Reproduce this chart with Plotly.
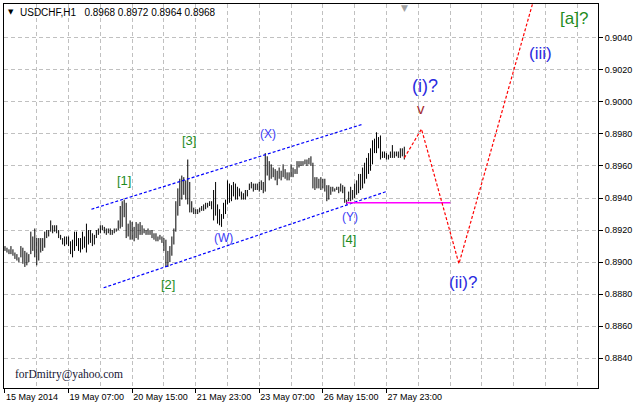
import plotly.graph_objects as go

# ---- data ----
highs = [
    0.8910, 0.8909, 0.8908, 0.8910, 0.8908, 0.8906, 0.8905, 0.8903, 0.8910, 0.8909,
    0.8907, 0.8906, 0.8905, 0.8919, 0.8916, 0.8921, 0.8915, 0.8915, 0.8915, 0.8915,
    0.8919, 0.8920, 0.8920, 0.8926, 0.8923, 0.8923, 0.8923, 0.8920, 0.8917, 0.8915,
    0.8916, 0.8916, 0.8916, 0.8913, 0.8914, 0.8919, 0.8919, 0.8915, 0.8915, 0.8919,
    0.8916, 0.8924, 0.8920, 0.8920, 0.8918, 0.8917, 0.8920, 0.8921, 0.8923, 0.8923,
    0.8922,
    0.8921, 0.8921, 0.8921, 0.8920, 0.8921, 0.8921, 0.8926, 0.8935, 0.8938, 0.8939,
    0.8937, 0.8924, 0.8926, 0.8925, 0.8922, 0.8925, 0.8924, 0.8925, 0.8923, 0.8921,
    0.8920, 0.8921, 0.8920, 0.8920, 0.8918, 0.8918, 0.8916, 0.8917, 0.8916, 0.8915,
    0.8914, 0.8907, 0.8910, 0.8916, 0.8921, 0.8938, 0.8946, 0.8952, 0.8954, 0.8953,
    0.8951, 0.8964, 0.8950, 0.8938, 0.8934, 0.8933, 0.8933, 0.8934, 0.8935, 0.8936,
    0.8937, 0.8937, 0.8938, 0.8938, 0.8945, 0.8950, 0.8936, 0.8933, 0.8930, 0.8937,
    0.8939, 0.8951, 0.8949, 0.8948, 0.8950, 0.8949, 0.8947, 0.8946, 0.8944, 0.8943,
    0.8945, 0.8945, 0.8949, 0.8950, 0.8949, 0.8949, 0.8949, 0.8950, 0.8951, 0.8950,
    0.8968, 0.8966, 0.8963, 0.8961, 0.8959, 0.8958, 0.8957, 0.8959, 0.8957, 0.8961,
    0.8958, 0.8956, 0.8956, 0.8961, 0.8959, 0.8958, 0.8963, 0.8963, 0.8963, 0.8963,
    0.8964, 0.8964, 0.8965, 0.8966, 0.8962, 0.8953, 0.8953, 0.8952, 0.8953, 0.8952,
    0.8952, 0.8948, 0.8948, 0.8947, 0.8947, 0.8946, 0.8947, 0.8947, 0.8949, 0.8948,
    0.8947, 0.8939, 0.8944, 0.8947, 0.8945, 0.8949, 0.8951, 0.8955, 0.8955, 0.8959,
    0.8962, 0.8965, 0.8968, 0.8971, 0.8976, 0.8977, 0.8981, 0.8978, 0.8979, 0.8969,
    0.8969, 0.8968, 0.8967, 0.8969, 0.8973, 0.8969, 0.8969, 0.8969, 0.8971, 0.8971,
    0.8972,
]
lows = [
    0.8907, 0.8906, 0.8905, 0.8905, 0.8904, 0.8902, 0.8901, 0.8900, 0.8903, 0.8899,
    0.8897, 0.8898, 0.8900, 0.8905, 0.8907, 0.8903, 0.8898, 0.8901, 0.8906, 0.8907,
    0.8909, 0.8915, 0.8916, 0.8919, 0.8918, 0.8919, 0.8918, 0.8915, 0.8914, 0.8911,
    0.8910, 0.8911, 0.8910, 0.8905, 0.8903, 0.8907, 0.8910, 0.8907, 0.8906, 0.8908,
    0.8909, 0.8906, 0.8911, 0.8912, 0.8910, 0.8911, 0.8915, 0.8917, 0.8918, 0.8920,
    0.8918,
    0.8917, 0.8918, 0.8917, 0.8917, 0.8918, 0.8919, 0.8920, 0.8921, 0.8922, 0.8928,
    0.8915, 0.8916, 0.8914, 0.8914, 0.8913, 0.8915, 0.8914, 0.8917, 0.8917, 0.8918,
    0.8917, 0.8917, 0.8917, 0.8915, 0.8914, 0.8913, 0.8913, 0.8914, 0.8912, 0.8907,
    0.8897, 0.8897, 0.8900, 0.8904, 0.8911, 0.8919, 0.8929, 0.8935, 0.8939, 0.8942,
    0.8939, 0.8936, 0.8931, 0.8931, 0.8930, 0.8930, 0.8930, 0.8931, 0.8932, 0.8932,
    0.8933, 0.8934, 0.8935, 0.8933, 0.8926, 0.8929, 0.8924, 0.8923, 0.8922, 0.8927,
    0.8930, 0.8936, 0.8937, 0.8938, 0.8941, 0.8939, 0.8939, 0.8941, 0.8939, 0.8939,
    0.8939, 0.8941, 0.8945, 0.8946, 0.8944, 0.8945, 0.8945, 0.8944, 0.8945, 0.8943,
    0.8944, 0.8954, 0.8951, 0.8952, 0.8953, 0.8951, 0.8948, 0.8952, 0.8951, 0.8953,
    0.8952, 0.8951, 0.8951, 0.8953, 0.8953, 0.8955, 0.8955, 0.8959, 0.8960, 0.8960,
    0.8961, 0.8960, 0.8961, 0.8960, 0.8946, 0.8945, 0.8946, 0.8946, 0.8945, 0.8946,
    0.8944, 0.8938, 0.8939, 0.8942, 0.8944, 0.8944, 0.8945, 0.8943, 0.8944, 0.8943,
    0.8937, 0.8936, 0.8938, 0.8938, 0.8939, 0.8940, 0.8942, 0.8943, 0.8945, 0.8946,
    0.8949, 0.8952, 0.8955, 0.8957, 0.8961, 0.8968, 0.8968, 0.8971, 0.8964, 0.8965,
    0.8965, 0.8964, 0.8964, 0.8965, 0.8965, 0.8965, 0.8966, 0.8965, 0.8965, 0.8966,
    0.8964,
]
last_ohlc = ["0.8968", "0.8972", "0.8964", "0.8968"]

time_tick_pos = [0, 32, 64, 96, 128, 160, 192]
time_tick_text = ["15 May 2014", "19 May 07:00", "20 May 15:00", "21 May 23:00",
                  "23 May 07:00", "26 May 15:00", "27 May 23:00"]
price_ticks = [0.8840, 0.8860, 0.8880, 0.8900, 0.8920, 0.8940,
               0.8960, 0.8980, 0.9000, 0.9020, 0.9040]

# channel lines (bar index, price)
upper_channel_x = [43.5, 180.0]
upper_channel_y = [0.8933, 0.8986]
lower_channel_x = [49.65, 191.85]
lower_channel_y = [0.8884, 0.8944]
support_x = [171.85, 224.15]
support_y = [0.8937, 0.8937]
projection_x = [201, 209.65, 228.5, 265.75]
projection_y = [0.8965, 0.8983, 0.8899, 0.9062]

# wave labels: text, bar index, price, colour, size
wave_labels = [
    ("[1]", 60.0, 0.8951, "#1e8c1e", 13),
    ("[2]", 82.25, 0.8886, "#1e8c1e", 13),
    ("[3]", 92.5, 0.8976, "#1e8c1e", 13),
    ("[4]", 173.25, 0.8914, "#1e8c1e", 13),
    ("(W)", 109.75, 0.8915, "#3a3af5", 12),
    ("(X)", 132.5, 0.8980, "#3a3af5", 12),
    ("(Y)", 173.75, 0.8928, "#3a3af5", 12),
    ("(i)?", 211.5, 0.9010, "#2a2ae0", 18),
    ("v", 209.5, 0.8996, "#a52a2a", 15),
    ("(ii)?", 230.75, 0.8887, "#2a2ae0", 17),
    ("(iii)", 269.5, 0.9030, "#2a2ae0", 17),
    ("[a]?", 286.5, 0.9052, "#1e8c1e", 17),
]

X_RANGE = [-0.5, 298.5]
Y_RANGE = [0.88215, 0.90610]
FONT = "Liberation Sans, Arial, sans-serif"

# ---- figure ----
bx, by = [], []
for i, (h, l) in enumerate(zip(highs, lows)):
    bx += [i, i, None]
    by += [l, h, None]

fig = go.Figure()
fig.add_trace(go.Scatter(x=bx, y=by, mode="lines",
                         line=dict(color="black", width=1), hoverinfo="skip"))
fig.add_trace(go.Scatter(x=upper_channel_x, y=upper_channel_y, mode="lines",
                         line=dict(color="#0000ff", width=1.2, dash="3px,2px")))
fig.add_trace(go.Scatter(x=lower_channel_x, y=lower_channel_y, mode="lines",
                         line=dict(color="#0000ff", width=1.2, dash="3px,2px")))
fig.add_trace(go.Scatter(x=support_x, y=support_y, mode="lines",
                         line=dict(color="#ff00ff", width=1.6)))
fig.add_trace(go.Scatter(x=projection_x, y=projection_y, mode="lines",
                         line=dict(color="#ff0000", width=1.2, dash="3px,2px")))

ann = []
for txt, k, p, col, sz in wave_labels:
    ann.append(dict(x=k, y=p, xref="x", yref="y", text=txt, showarrow=False,
                    font=dict(family=FONT, size=sz, color=col),
                    xanchor="center", yanchor="middle"))

ann.append(dict(x=0.0117, y=0.979, xref="paper", yref="paper", text="▼",
                showarrow=False, font=dict(family="DejaVu Sans", size=7, color="black"),
                xanchor="center", yanchor="middle"))
ann.append(dict(x=0.0234, y=0.979, xref="paper", yref="paper",
                text="USDCHF,H1\u00a0\u00a0\u00a0" + "\u00a0".join(last_ohlc),
                showarrow=False, font=dict(family=FONT, size=10, color="black"),
                xanchor="left", yanchor="middle"))
ann.append(dict(x=0.015, y=0.034, xref="paper", yref="paper",
                text="forDmitry@yahoo.com", showarrow=False,
                font=dict(family="Liberation Serif, Times New Roman, serif",
                          size=11.5, color="#141432"),
                xanchor="left", yanchor="middle"))
# chart shift marker
ann.append(dict(x=len(highs) - 1, y=1.0, xref="x", yref="paper", text="▼",
                showarrow=False, font=dict(family="DejaVu Sans", size=9, color="#a0a0a0"),
                xanchor="center", yanchor="top", yshift=3))

grid_col = "#c0c0c0"
fig.update_layout(
    width=635, height=406,
    margin=dict(l=3, r=34, t=3, b=18),
    paper_bgcolor="white", plot_bgcolor="white",
    showlegend=False,
    annotations=ann,
    xaxis=dict(range=X_RANGE, tickmode="array", tickvals=time_tick_pos,
               ticktext=time_tick_text, ticks="outside", ticklen=4,
               tickcolor="black", ticklabelposition="outside right",
               tickfont=dict(family=FONT, size=9, color="black"),
               showgrid=True, gridcolor=grid_col, griddash="4px,3px", gridwidth=1,
               minor=dict(tickmode="linear", tick0=0, dtick=16, showgrid=True,
                          gridcolor=grid_col, griddash="4px,3px", gridwidth=1, ticks=""),
               showline=True, linecolor="black", linewidth=1, mirror=True,
               zeroline=False, fixedrange=True),
    yaxis=dict(range=Y_RANGE, side="right", tickmode="array", tickvals=price_ticks,
               ticktext=["%.4f" % v for v in price_ticks], ticks="outside", ticklen=4,
               tickcolor="black", tickfont=dict(family=FONT, size=9, color="black"),
               showgrid=True, gridcolor=grid_col, griddash="4px,3px", gridwidth=1,
               showline=True, linecolor="black", linewidth=1, mirror=True,
               zeroline=False, fixedrange=True),
)

post = "document.body.style.margin='0';document.body.style.overflow='hidden';"
fig.write_html("out.html", config={"displayModeBar": False}, post_script=post)
